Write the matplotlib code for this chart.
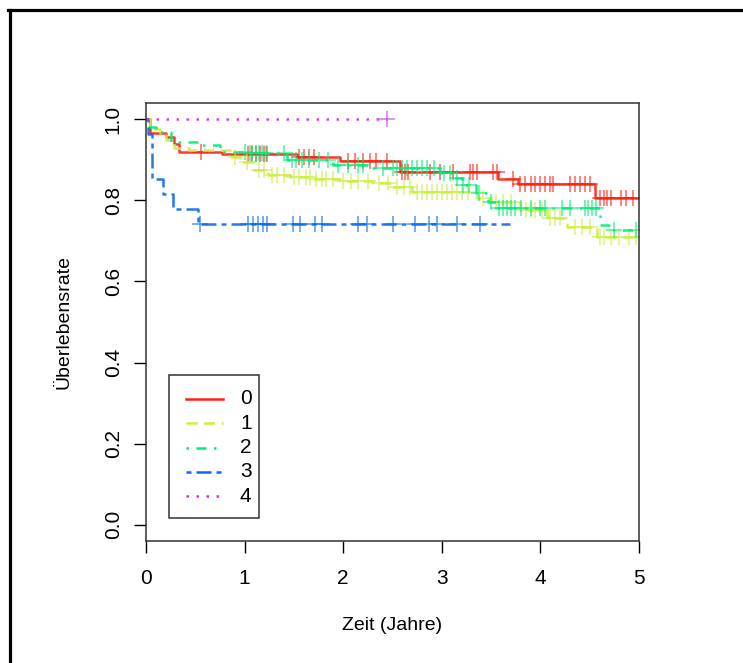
import numpy as np
import matplotlib
matplotlib.use("Agg")
import matplotlib.pyplot as plt
from matplotlib.lines import Line2D
from matplotlib.patches import Rectangle

plt.rcParams['font.family'] = ['Liberation Sans', 'DejaVu Sans']

# ---- data ----
groups = ["0", "1", "2", "3", "4"]
colors = ["#FF2010", "#CCEE44", "#00EE77", "#0A6CF0", "#CC33EE"]

times0 = [0, 0.04, 0.2, 0.28, 0.33, 0.77, 1.53, 1.97, 2.58, 3.57, 3.77, 4.55]
surv0 = [1.0, 0.966, 0.956, 0.94, 0.919, 0.914, 0.908, 0.898, 0.87, 0.852, 0.84, 0.805]
end0 = 5.0
cens0 = [0.56, 1.03, 1.08, 1.12, 1.16, 1.2, 1.23, 1.55, 1.6, 1.65, 1.7, 2.05, 2.12,
         2.2, 2.27, 2.33, 2.44, 2.6, 2.63, 2.66, 2.88, 2.98, 3.11, 3.29, 3.32, 3.36,
         3.52, 3.56, 3.72, 3.79, 3.84, 3.9, 3.95, 4.0, 4.05, 4.1, 4.13, 4.3, 4.35,
         4.4, 4.45, 4.5, 4.6, 4.64, 4.68, 4.72, 4.82, 4.87, 4.94]

times1 = [0, 0.04, 0.14, 0.2, 0.28, 0.44, 0.85, 0.95, 1.1, 1.24, 1.46, 1.69, 1.97,
          2.3, 2.5, 2.7, 3.36, 3.5, 3.79, 4.07, 4.27, 4.57]
surv1 = [1.0, 0.975, 0.96, 0.948, 0.93, 0.924, 0.906, 0.894, 0.874, 0.862, 0.857,
         0.852, 0.847, 0.842, 0.833, 0.82, 0.805, 0.796, 0.776, 0.756, 0.734, 0.71]
end1 = 5.0
cens1 = [0.9, 1.02, 1.15, 1.2, 1.28, 1.33, 1.4, 1.5, 1.55, 1.62, 1.66, 1.72, 1.78,
         1.83, 1.9, 2.0, 2.08, 2.15, 2.25, 2.36, 2.45, 2.55, 2.62, 2.68, 2.75, 2.8,
         2.85, 2.9, 2.95, 3.0, 3.05, 3.1, 3.15, 3.2, 3.27, 3.42, 3.55, 3.62, 3.7,
         3.85, 3.9, 3.95, 4.02, 4.1, 4.15, 4.2, 4.35, 4.42, 4.5, 4.6, 4.65, 4.72,
         4.8, 4.9, 4.97]

times2 = [0, 0.03, 0.1, 0.25, 0.57, 0.75, 1.05, 1.43, 1.9, 2.3, 2.98, 3.1, 3.2,
          3.35, 3.47, 3.55, 4.6, 4.7]
surv2 = [1.0, 0.98, 0.968, 0.944, 0.936, 0.92, 0.916, 0.9, 0.887, 0.879, 0.867,
         0.855, 0.837, 0.818, 0.796, 0.78, 0.739, 0.727]
end2 = 5.0
cens2 = [1.0, 1.05, 1.08, 1.12, 1.15, 1.18, 1.22, 1.4, 1.48, 1.52, 1.58, 1.65, 1.75,
         1.85, 1.95, 2.05, 2.15, 2.2, 2.4, 2.5, 2.55, 2.6, 2.65, 2.7, 2.75, 2.8,
         2.85, 2.92, 3.02, 3.08, 3.15, 3.22, 3.28, 3.38, 3.5, 3.58, 3.62, 3.66,
         3.7, 3.74, 3.8, 3.9, 4.0, 4.05, 4.22, 4.3, 4.45, 4.48, 4.52, 4.56, 4.75,
         4.97]

times3 = [0, 0.02, 0.06, 0.17, 0.27, 0.53]
surv3 = [1.0, 0.963, 0.852, 0.815, 0.778, 0.741]
end3 = 3.69
cens3 = [0.55, 1.03, 1.09, 1.14, 1.19, 1.23, 1.49, 1.56, 1.71, 1.79, 2.15, 2.24,
         2.5, 2.73, 2.87, 2.95, 3.15, 3.39]

times4 = [0]
surv4 = [1.0]
end4 = 2.44
cens4 = [2.44]

all_times = [times0, times1, times2, times3, times4]
all_surv = [surv0, surv1, surv2, surv3, surv4]
all_end = [end0, end1, end2, end3, end4]
all_cens = [cens0, cens1, cens2, cens3, cens4]

x_ticks = [0, 1, 2, 3, 4, 5]
y_ticks = [0.0, 0.2, 0.4, 0.6, 0.8, 1.0]
y_ticklabels = ["0.0", "0.2", "0.4", "0.6", "0.8", "1.0"]

# ---- figure ----
W, H = 743, 663
AX_L, AX_R, AX_T, AX_B = 146, 639, 103, 541
fig = plt.figure(figsize=(W / 100, H / 100), dpi=100)
ax = fig.add_axes([AX_L / W, 1 - AX_B / H, (AX_R - AX_L) / W, (AX_B - AX_T) / H])


def fx(px):
    return (px - AX_L) / (AX_R - AX_L)


def fy(py):
    return (AX_B - py) / (AX_B - AX_T)


lw = 1.8
dash_styles = ['-', (0, (4.5, 2.5)), (0, (1, 3, 4, 3)), (0, (2, 2, 6, 2)), (0, (1, 3))]

for g, t, s, e, c, col, ls in zip(groups, all_times, all_surv, all_end, all_cens,
                                   colors, dash_styles):
    t = np.asarray(t, float)
    s = np.asarray(s, float)
    xs = np.append(t, e)
    ys = np.append(s, s[-1])
    ax.step(xs, ys, where='post', color=col, lw=lw, linestyle=ls, alpha=0.9)
    c = np.asarray(c, float)
    idx = np.searchsorted(t, c, side='right') - 1
    ax.plot(c, s[idx], linestyle='none', marker='+', markersize=11.5,
            markeredgewidth=1.1, color=col, alpha=0.7)

ax.set_xlim(0, 5)
ax.set_ylim(-0.04, 1.04)
ax.set_xticks(x_ticks)
ax.set_xticklabels([str(v) for v in x_ticks])
ax.set_yticks(y_ticks)
ax.set_yticklabels(y_ticklabels, rotation=90, va='center')
ax.tick_params(axis='both', direction='out', length=8.6, width=1.0,
               labelsize=15, color='black')
ax.tick_params(axis='x', pad=11.2)
ax.tick_params(axis='y', pad=8.2)
for sp in ax.spines.values():
    sp.set_color('#333333')
    sp.set_linewidth(1.1)

ax.set_xlabel('Zeit (Jahre)', fontsize=14, va='center')
ax.xaxis.set_label_coords(0.5, fy(626))
ax.set_ylabel('Überlebensrate', fontsize=14, va='center')
ax.yaxis.set_label_coords(fx(64), 0.5)

# ---- legend (drawn by hand to match the box of the original) ----
ax.add_patch(Rectangle((fx(169), fy(518)), fx(259) - fx(169), fy(375) - fy(518),
                       transform=ax.transAxes, facecolor='white',
                       edgecolor='#333333', lw=1.1, zorder=5))
row_y = [399, 423.2, 447.5, 471.7, 496]
for g, col, ls, ry in zip(groups, colors, dash_styles, row_y):
    ax.plot([fx(186), fx(223)], [fy(ry), fy(ry)], transform=ax.transAxes,
            color=col, lw=lw, linestyle=ls, zorder=6)
    ax.text(fx(240), fy(ry), g, transform=ax.transAxes, fontsize=15,
            va='center', ha='left', zorder=6)

# outer frame (left and top visible)
fig.add_artist(Line2D([9.5 / W, 9.5 / W], [0, 1 - 9.5 / H], transform=fig.transFigure,
                      color='black', lw=2.3))
fig.add_artist(Line2D([8 / W, 1], [1 - 9.5 / H, 1 - 9.5 / H], transform=fig.transFigure,
                      color='black', lw=2.3))

fig.savefig('out.png', dpi=100)
